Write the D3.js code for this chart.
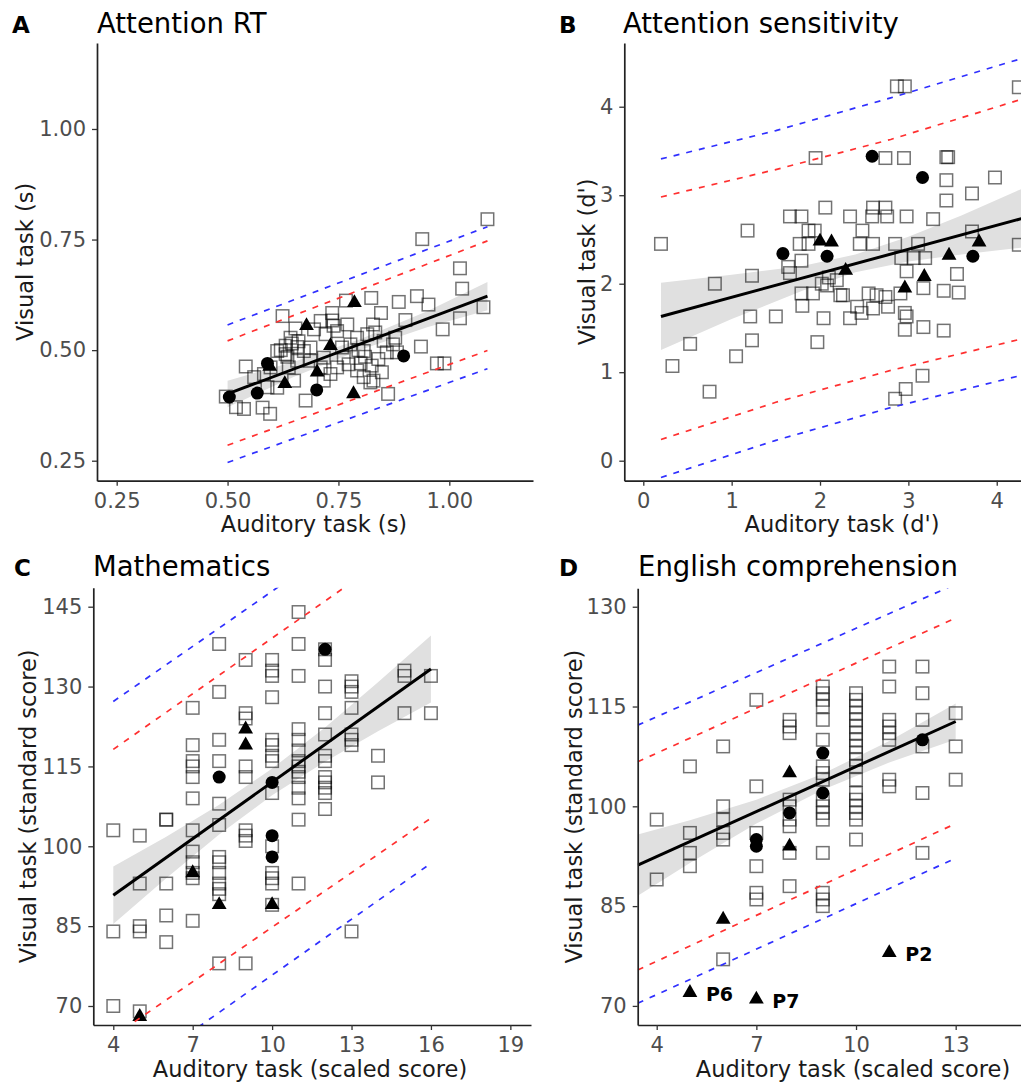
<!DOCTYPE html>
<html>
<head>
<meta charset="utf-8">
<script src="https://cdn.jsdelivr.net/npm/d3@7"></script>
<style>
  body { margin: 0; background: #fff; }
  svg { display: block; }
  text { font-family: "DejaVu Sans", Verdana, sans-serif; }
</style>
</head>
<body>
<svg id="chart" width="1021" height="1084"></svg>
<script>
// ---------------- DATA ----------------
// Panel A: Attention RT (auditory s, visual s)
const rtOpen = [[1.086,0.796],[0.939,0.751],[1.024,0.685],[1.029,0.639],[1.077,0.597],[1.024,0.572],[0.985,0.547],[0.936,0.508],[0.972,0.470],[0.989,0.470],[0.862,0.401],[0.953,0.603],[0.927,0.622],[0.886,0.609],[0.824,0.618],[0.767,0.612],[0.846,0.584],[0.828,0.558],[0.901,0.568],[0.873,0.513],[0.859,0.495],[0.848,0.450],[0.829,0.431],[0.736,0.584],[0.736,0.567],[0.747,0.543],[0.695,0.547],[0.653,0.549],[0.624,0.577],[0.642,0.528],[0.631,0.510],[0.631,0.491],[0.657,0.507],[0.672,0.498],[0.687,0.506],[0.541,0.463],[0.496,0.395],[0.519,0.371],[0.537,0.367],[0.579,0.370],[0.596,0.356],[0.612,0.415],[0.676,0.386],[0.650,0.431],[0.717,0.431],[0.732,0.446],[0.773,0.468],[0.792,0.454],[0.807,0.439],[0.822,0.427],[0.777,0.513],[0.792,0.528],[0.807,0.498],[0.762,0.483],[0.815,0.536],[0.833,0.540],[0.852,0.521],[0.612,0.498],[0.597,0.461],[0.582,0.446],[0.560,0.439],[0.590,0.416],[0.657,0.476],[0.687,0.476],[0.717,0.483],[0.710,0.461],[0.747,0.461],[0.758,0.506],[0.882,0.495],[0.721,0.536],[0.770,0.558],[0.710,0.566],[0.638,0.461],[0.620,0.500],[0.635,0.485],[0.645,0.515],[0.660,0.520],[0.800,0.470],[0.840,0.480],[0.825,0.465],[0.878,0.528],[0.739,0.555],[0.795,0.500],[0.810,0.485]];
const rtCircle = [[0.504,0.394],[0.567,0.403],[0.590,0.470],[0.701,0.410],[0.897,0.487]];
const rtTriangle = [[0.786,0.607],[0.678,0.555],[0.732,0.510],[0.702,0.450],[0.629,0.424],[0.784,0.401],[0.595,0.463]];
const rtFit = [[0.5,0.401],[1.086,0.622]];
const rtBandX = [0.5,0.65,0.8,0.95,1.086];
const rtBandLo = [0.371,0.440,0.501,0.552,0.590];
const rtBandHi = [0.431,0.474,0.525,0.588,0.654];
const rtPiX = [0.5,1.086];
const rtRedHi = [0.521,0.747], rtRedLo = [0.285,0.499];
const rtBlueHi = [0.557,0.779], rtBlueLo = [0.246,0.458];
const rtTicks = [0.25,0.50,0.75,1.00];

// Panel B: Attention sensitivity (d')
const dOpen = [[0.20,2.45],[0.33,1.07],[0.53,1.32],[0.75,0.78],[0.81,2.00],[1.05,1.18],[1.18,2.60],[1.21,1.63],[1.23,2.09],[1.23,1.36],[1.50,1.63],[1.66,2.76],[1.79,2.76],[1.64,2.19],[1.79,2.26],[1.66,2.12],[1.77,2.45],[1.87,2.45],[1.87,2.60],[1.94,2.60],[1.95,3.42],[1.79,1.89],[1.92,1.89],[1.80,1.75],[1.97,1.34],[2.04,1.61],[2.02,2.00],[2.08,1.98],[2.10,2.07],[2.19,2.04],[2.06,2.86],[2.23,1.87],[2.26,1.87],[2.34,2.76],[2.34,1.61],[2.47,1.67],[2.42,1.74],[2.45,2.45],[2.48,2.60],[2.59,2.76],[2.60,2.86],[2.74,2.86],[2.76,2.76],[2.55,1.89],[2.64,1.87],[2.74,1.85],[2.60,1.72],[2.77,1.74],[2.60,2.45],[2.74,3.42],[2.95,3.42],[2.85,2.45],[2.98,2.76],[2.87,4.23],[2.96,4.23],[2.92,2.29],[3.06,2.29],[3.19,2.29],[2.98,2.14],[2.91,1.89],[2.96,1.67],[2.98,1.63],[2.96,1.48],[3.11,2.45],[3.17,1.51],[3.16,0.96],[2.97,0.81],[2.85,0.70],[3.17,1.95],[3.28,2.73],[3.40,1.47],[3.40,1.92],[3.43,3.43],[3.45,3.43],[3.43,3.17],[3.43,2.94],[3.55,2.11],[3.57,1.90],[3.72,3.02],[3.72,2.59],[3.98,3.20],[4.25,4.22],[4.25,2.44]];
const dCircle = [[2.59,3.44],[3.16,3.20],[1.58,2.34],[2.08,2.31],[3.73,2.31]];
const dTriangle = [[2.00,2.48],[2.13,2.47],[2.29,2.15],[3.46,2.32],[3.80,2.47],[3.18,2.08],[2.96,1.95]];
const dFit = [[0.2,1.630],[4.3,2.741]];
const dBandX = [0.2,1.0,1.8,2.4,3.0,3.6,4.3];
const dBandLo = [1.25,1.60,1.92,2.13,2.25,2.33,2.41];
const dBandHi = [2.01,2.10,2.20,2.33,2.53,2.77,3.08];
const dPiX = [0.2,1.5,2.8,4.3];
const dRedHi = [2.98,3.29,3.63,4.09], dRedLo = [0.24,0.66,1.02,1.38];
const dBlueHi = [3.41,3.73,4.10,4.55], dBlueLo = [-0.19,0.23,0.60,0.97];
const dTicks = [0,1,2,3,4];

// Panel C: Mathematics (scaled score, standard score)
const mathOpen = [[4,103],[4,84],[4,70],[5,102],[5,93],[5,85],[5,84],[5,69],[6,105],[6,105],[6,93],[6,87],[6,82],[7,126],[7,119],[7,116],[7,115],[7,113],[7,109],[7,103],[7,99],[7,97],[7,95],[7,94],[7,86],[8,138],[8,129],[8,120],[8,116],[8,108],[8,104],[8,98],[8,97],[8,95],[8,93],[8,92],[8,91],[8,78],[9,135],[9,125],[9,124],[9,115],[9,113],[9,103],[9,102],[9,101],[9,78],[10,135],[10,133],[10,132],[10,128],[10,120],[10,119],[10,117],[10,116],[10,110],[10,100],[10,95],[10,94],[10,93],[10,89],[11,144],[11,138],[11,132],[11,122],[11,120],[11,118],[11,116],[11,115],[11,114],[11,113],[11,111],[11,109],[11,105],[11,93],[12,137],[12,135],[12,130],[12,125],[12,121],[12,117],[12,116],[12,113],[12,112],[12,111],[12,110],[12,107],[13,131],[13,130],[13,129],[13,126],[13,121],[13,120],[13,119],[13,84],[14,117],[14,112],[15,133],[15,132],[15,125],[16,132],[16,125]];
const mathCircle = [[8,113],[10,112],[10,102],[10,98],[12,137]];
const mathTriangle = [[5,68],[7,95],[8,89],[9,122],[9,119],[10,89]];
const mathFit = [[4,90.8],[16,133.3]];
const mathBandX = [4,6,8,10,12,14,16];
const mathBandLo = [85.4,94.0,102.2,109.6,115.9,121.6,127.0];
const mathBandHi = [96.2,101.8,107.8,114.6,122.3,130.8,139.6];
const mathPiX = [4,16];
const mathRedHi = [118.2,160.0], mathRedLo = [64.3,105.3];
const mathBlueHi = [127.2,168.6], mathBlueLo = [54.8,96.8];
const mathXTicks = [4,7,10,13,16,19];
const mathYTicks = [70,85,100,115,130,145];

// Panel D: English comprehension
const engOpen = [[4,98],[4,89],[5,106],[5,96],[5,93],[5,91],[6,109],[6,100],[6,98],[6,96],[6,95],[6,77],[7,116],[7,103],[7,96],[7,91],[7,87],[7,86],[8,113],[8,112],[8,111],[8,101],[8,100],[8,98],[8,97],[8,93],[8,88],[9,118],[9,117],[9,116],[9,115],[9,113],[9,110],[9,106],[9,105],[9,104],[9,101],[9,100],[9,99],[9,98],[9,93],[9,87],[9,86],[9,85],[10,117],[10,116],[10,115],[10,114],[10,113],[10,112],[10,111],[10,110],[10,109],[10,108],[10,107],[10,106],[10,104],[10,102],[10,101],[10,100],[10,99],[10,98],[10,95],[11,121],[11,118],[11,113],[11,112],[11,111],[11,110],[11,104],[11,103],[12,121],[12,117],[12,113],[12,109],[12,102],[12,93],[13,114],[13,109],[13,104]];
const engCircle = [[7,95],[7,94],[8,99],[9,108],[9,102],[12,110]];
const engTriangle = [[5,72],[6,83],[7,71],[8,105],[8,94],[11,78]];
const engLabelNames = ["P6","P7","P2"];
const engLabelPts = [[5,72],[7,71],[11,78]];
const engFit = [[3.43,91.15],[13,112.75]];
const engBandX = [3.43,5,7,9,11,13];
const engBandLo = [86.55,91.49,97.4,102.5,106.6,110.05];
const engBandHi = [95.75,97.89,101.0,104.9,109.8,115.45];
const engPiX = [3.43,13];
const engRedHi = [106.7,128.3], engRedLo = [75.4,97.4];
const engBlueHi = [112.2,133.4], engBlueLo = [70.4,92.2];
const engXTicks = [4,7,10,13,16];
const engYTicks = [70,85,100,115,130];

// ---------------- LAYOUT ----------------
const panels = [
  { id:"A", letter:"A", title:"Attention RT", letterX:12, titleX:97, titleY:33,
    box:{l:97,t:43,r:533,b:480.7}, xd:[0.2056,1.1887], yd:[0.2048,1.1944], fmt:".2f",
    xTicks:rtTicks, yTicks:rtTicks, xLabel:"Auditory task (s)", yLabel:"Visual task (s)",
    xLabelX:314, xLabelY:532, yLabelX:33,
    open:rtOpen, circ:rtCircle, tri:rtTriangle, fit:rtFit,
    band:d3.zip(rtBandX, rtBandLo, rtBandHi),
    pis:[[rtPiX,rtRedHi,"red"],[rtPiX,rtRedLo,"red"],[rtPiX,rtBlueHi,"blue"],[rtPiX,rtBlueLo,"blue"]] },
  { id:"B", letter:"B", title:"Attention sensitivity", letterX:559, titleX:623, titleY:33,
    box:{l:624.3,t:43,r:1060,b:480.7}, xd:[-0.215,4.716], yd:[-0.226,4.72], fmt:"d",
    xTicks:dTicks, yTicks:dTicks, xLabel:"Auditory task (d')", yLabel:"Visual task (d')",
    xLabelX:842, xLabelY:532, yLabelX:595,
    open:dOpen, circ:dCircle, tri:dTriangle, fit:dFit,
    band:d3.zip(dBandX, dBandLo, dBandHi),
    pis:[[dPiX,dRedHi,"red"],[dPiX,dRedLo,"red"],[dPiX,dBlueHi,"blue"],[dPiX,dBlueLo,"blue"]] },
  { id:"C", letter:"C", title:"Mathematics", letterX:14, titleX:93, titleY:576,
    box:{l:93.3,t:587.7,r:531,b:1025}, xd:[3.245,19.78], yd:[66.43,148.57], fmt:"d",
    xTicks:mathXTicks, yTicks:mathYTicks, xLabel:"Auditory task (scaled score)", yLabel:"Visual task (standard score)",
    xLabelX:310, xLabelY:1077, yLabelX:36,
    open:mathOpen, circ:mathCircle, tri:mathTriangle, fit:mathFit,
    band:d3.zip(mathBandX, mathBandLo, mathBandHi),
    pis:[[mathPiX,mathRedHi,"red"],[mathPiX,mathRedLo,"red"],[mathPiX,mathBlueHi,"blue"],[mathPiX,mathBlueLo,"blue"]] },
  { id:"D", letter:"D", title:"English comprehension", letterX:559, titleX:638, titleY:576,
    box:{l:637.7,t:588.3,r:1068,b:1025}, xd:[3.428,16.381], yd:[67.13,132.77], fmt:"d",
    xTicks:engXTicks, yTicks:engYTicks, xLabel:"Auditory task (scaled score)", yLabel:"Visual task (standard score)",
    xLabelX:853, xLabelY:1077, yLabelX:582,
    open:engOpen, circ:engCircle, tri:engTriangle, fit:engFit,
    band:d3.zip(engBandX, engBandLo, engBandHi),
    pis:[[engPiX,engRedHi,"red"],[engPiX,engRedLo,"red"],[engPiX,engBlueHi,"blue"],[engPiX,engBlueLo,"blue"]],
    labels:d3.zip(engLabelNames, engLabelPts) }
];

const colors = { red:"#ff3030", blue:"#3030ff" };
const svg = d3.select("#chart");
const defs = svg.append("defs");

panels.forEach(p => {
  const x = d3.scaleLinear().domain(p.xd).range([p.box.l, p.box.r]);
  const y = d3.scaleLinear().domain(p.yd).range([p.box.b, p.box.t]);
  const g = svg.append("g").attr("class", "panel-" + p.id);

  defs.append("clipPath").attr("id", "clip" + p.id)
    .append("rect").attr("x", p.box.l).attr("y", p.box.t)
    .attr("width", p.box.r - p.box.l).attr("height", p.box.b - p.box.t);

  const plot = g.append("g").attr("clip-path", `url(#clip${p.id})`);

  // confidence band
  plot.append("path").datum(p.band)
    .attr("d", d3.area().x(d => x(d[0])).y0(d => y(d[1])).y1(d => y(d[2])))
    .attr("fill", "#e0e0e0");

  // open squares
  const s = 12.5;
  plot.append("g").selectAll("rect").data(p.open).join("rect")
    .attr("x", d => x(d[0]) - s/2).attr("y", d => y(d[1]) - s/2)
    .attr("width", s).attr("height", s)
    .attr("fill", "none").attr("stroke", "#000").attr("stroke-opacity", 0.55).attr("stroke-width", 1.5);

  // filled circles
  plot.append("g").selectAll("circle").data(p.circ).join("circle")
    .attr("cx", d => x(d[0])).attr("cy", d => y(d[1])).attr("r", 6.5).attr("fill", "#000");

  // filled triangles
  const tri = d3.symbol().type(d3.symbolTriangle).size(95);
  plot.append("g").selectAll("path").data(p.tri).join("path")
    .attr("transform", d => `translate(${x(d[0])},${y(d[1])})`)
    .attr("d", tri).attr("fill", "#000");

  // regression line
  const line = d3.line().x(d => x(d[0])).y(d => y(d[1]));
  plot.append("path").datum(p.fit).attr("d", line)
    .attr("fill", "none").attr("stroke", "#000").attr("stroke-width", 3);

  // prediction interval lines
  p.pis.forEach(([xs, ys, c]) => {
    plot.append("path").datum(d3.zip(xs, ys)).attr("d", line)
      .attr("fill", "none").attr("stroke", colors[c]).attr("stroke-width", 1.7)
      .attr("stroke-dasharray", "6,7");
  });

  // labels
  if (p.labels) {
    plot.append("g").selectAll("text").data(p.labels).join("text")
      .attr("x", d => x(d[1][0]) + 16).attr("y", d => y(d[1][1]) + 8.5)
      .attr("font-size", 19).attr("font-weight", "bold").attr("fill", "#000")
      .text(d => d[0]);
  }

  // axes
  const fmt = d3.format(p.fmt);
  const xAxis = g.append("g").attr("transform", `translate(0,${p.box.b})`)
    .call(d3.axisBottom(x).tickValues(p.xTicks).tickFormat(fmt).tickSize(5).tickSizeOuter(0).tickPadding(7));
  const yAxis = g.append("g").attr("transform", `translate(${p.box.l},0)`)
    .call(d3.axisLeft(y).tickValues(p.yTicks).tickFormat(fmt).tickSize(5).tickSizeOuter(0).tickPadding(6));
  [xAxis, yAxis].forEach(a => {
    a.select(".domain").attr("stroke", "#222").attr("stroke-width", 1.7);
    a.selectAll(".tick line").attr("stroke", "#333").attr("stroke-width", 1.3);
    a.selectAll(".tick text").attr("fill", "#4d4d4d").attr("font-size", 21)
      .attr("font-family", '"DejaVu Sans", Verdana, sans-serif');
  });

  // axis titles
  g.append("text").attr("x", p.xLabelX).attr("y", p.xLabelY).attr("text-anchor", "middle")
    .attr("font-size", 22.5).attr("fill", "#1a1a1a").text(p.xLabel);
  const cy = (p.box.t + p.box.b) / 2;
  g.append("text").attr("transform", `translate(${p.yLabelX},${cy}) rotate(-90)`)
    .attr("text-anchor", "middle").attr("font-size", 22.5).attr("fill", "#1a1a1a").text(p.yLabel);

  // panel letter and title
  g.append("text").attr("x", p.letterX).attr("y", p.titleY - 0.5)
    .attr("font-size", 23).attr("font-weight", "bold").attr("fill", "#000").text(p.letter);
  g.append("text").attr("x", p.titleX).attr("y", p.titleY)
    .attr("font-size", 27.5).attr("fill", "#000").text(p.title);
});
</script>
</body>
</html>
